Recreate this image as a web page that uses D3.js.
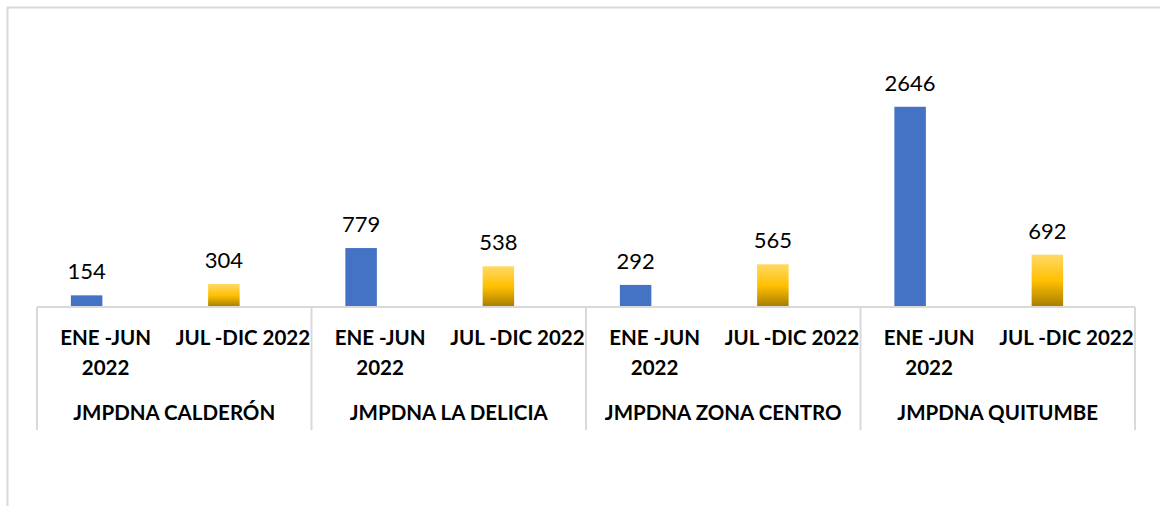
<!DOCTYPE html>
<html>
<head>
<meta charset="utf-8">
<script src="https://cdn.jsdelivr.net/npm/d3@7"></script>
<style>
  body { margin: 0; background: #fff; }
  svg { display: block; }
</style>
</head>
<body>
<svg width="1160" height="506"></svg>
<script>
// Data
var groups = ["JMPDNA CALDERÓN", "JMPDNA LA DELICIA", "JMPDNA ZONA CENTRO", "JMPDNA QUITUMBE"];
var periods = ["ENE -JUN 2022", "JUL -DIC 2022"];
var periodLines = [["ENE -JUN", "2022"], ["JUL -DIC 2022"]];
var eneJun = [154, 779, 292, 2646];
var julDic = [304, 538, 565, 692];

var svg = d3.select("svg"),
    width = +svg.attr("width"),
    height = +svg.attr("height");

var font = "Lato, 'Noto Sans', sans-serif";

// frame (top and left only visible)
svg.append("line").attr("x1", 7).attr("x2", width).attr("y1", 7.5).attr("y2", 7.5)
  .attr("stroke", "#d9d9d9").attr("stroke-width", 2);
svg.append("line").attr("x1", 7.5).attr("x2", 7.5).attr("y1", 7).attr("y2", height)
  .attr("stroke", "#d9d9d9").attr("stroke-width", 2);

// gradient for second series
var grad = svg.append("defs").append("linearGradient")
  .attr("id", "gold").attr("x1", 0).attr("x2", 0).attr("y1", 0).attr("y2", 1);
grad.append("stop").attr("offset", "0%").attr("stop-color", "#ffd966");
grad.append("stop").attr("offset", "50%").attr("stop-color", "#ffc000");
grad.append("stop").attr("offset", "100%").attr("stop-color", "#a67c00");

// scales
var x0 = d3.scaleBand().domain(groups).range([37, 1135]);
var x1 = d3.scaleBand().domain(periods).range([0, x0.bandwidth()]);
var y = d3.scaleLinear().domain([0, 3000]).range([307, 80]);

var barW = 31.5, barShift = -19;

var data = [];
groups.forEach(function(g, i){
  data.push({group: g, period: periods[0], value: eneJun[i], fill: "#4472c4"});
  data.push({group: g, period: periods[1], value: julDic[i], fill: "url(#gold)"});
});

function cx(d){ return x0(d.group) + x1(d.period) + x1.bandwidth()/2 + barShift; }

// bars
svg.append("g").selectAll("rect")
  .data(data)
  .enter()
  .append("rect")
    .attr("x", function(d){ return cx(d) - barW/2 })
    .attr("y", function(d){ return y(d.value) })
    .attr("width", barW)
    .attr("height", function(d){ return y(0) - y(d.value) })
    .attr("fill", function(d){ return d.fill });

// value labels
svg.append("g").selectAll("text")
  .data(data)
  .enter()
  .append("text")
    .attr("x", function(d){ return cx(d) })
    .attr("y", function(d){ return y(d.value) - 16 })
    .attr("text-anchor", "middle")
    .style("font-family", font)
    .style("font-size", "22px")
    .style("fill", "#000")
    .text(function(d){ return d.value });

// axis baseline + separators
svg.append("line").attr("x1", x0.range()[0]).attr("x2", x0.range()[1])
  .attr("y1", y(0)).attr("y2", y(0))
  .attr("stroke", "#d9d9d9").attr("stroke-width", 2);

var seps = groups.map(function(g){ return x0(g) }).concat([x0.range()[1]]);
svg.append("g").selectAll("line")
  .data(seps)
  .enter()
  .append("line")
    .attr("x1", function(d){ return d }).attr("x2", function(d){ return d })
    .attr("y1", y(0)).attr("y2", 430)
    .attr("stroke", "#d9d9d9").attr("stroke-width", 2);

// period tick labels
groups.forEach(function(g){
  periods.forEach(function(p, j){
    var t = svg.append("text")
      .attr("x", x0(g) + x1(p) + x1.bandwidth()/2)
      .attr("y", 345)
      .attr("text-anchor", "middle")
      .style("font-family", font)
      .style("font-weight", "bold")
      .style("font-size", "20.5px");
    periodLines[j].forEach(function(line, k){
      t.append("tspan")
        .attr("x", x0(g) + x1(p) + x1.bandwidth()/2)
        .attr("dy", k === 0 ? 0 : 30)
        .text(line);
    });
  });
});

// group labels
svg.append("g").selectAll("text")
  .data(groups)
  .enter()
  .append("text")
    .attr("x", function(d){ return x0(d) + x0.bandwidth()/2 })
    .attr("y", 420)
    .attr("text-anchor", "middle")
    .style("font-family", font)
    .style("font-weight", "bold")
    .style("font-size", "20.5px")
    .text(function(d){ return d });
</script>
</body>
</html>
